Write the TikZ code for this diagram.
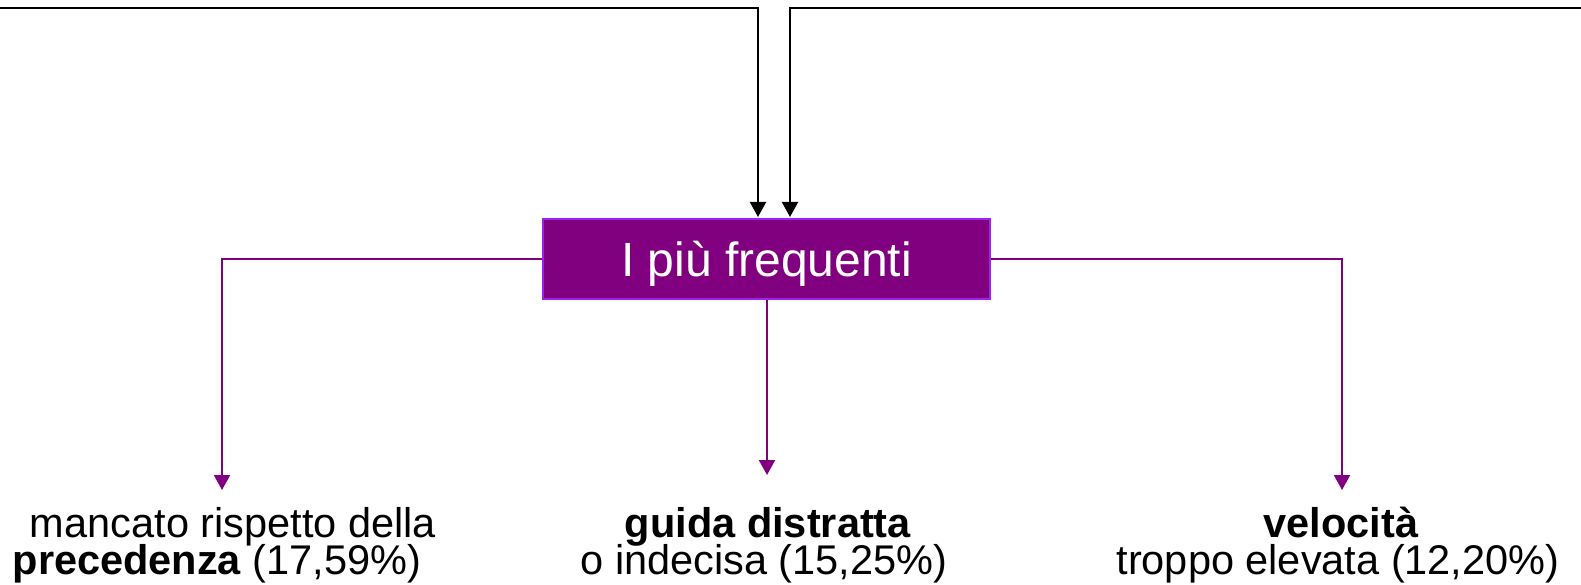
\documentclass[tikz,border=0pt]{standalone}
\usepackage{fontspec}
\setmainfont{Liberation Sans}
\usetikzlibrary{arrows.meta}
\definecolor{plum}{HTML}{800080}
\definecolor{plumedge}{HTML}{A020F0}
\begin{document}
\begin{tikzpicture}[x=1pt,y=-1pt,
  blackarrow/.style={draw=black,line width=2pt,-{Triangle[width=16pt,length=15pt]}},
  purplearrow/.style={draw=plum,line width=2pt,-{Triangle[width=16pt,length=15pt]}},
  mainbox/.style={draw=plumedge,line width=1.2pt,fill=plum,text=white,minimum width=447pt,minimum height=80pt,inner sep=0pt,text height=34.4pt,text depth=0pt,font=\fontsize{48}{52}\selectfont},
  lbl/.style={anchor=base,inner sep=0pt,font=\fontsize{41.5}{36}\selectfont}]
\useasboundingbox (0,0) rectangle (1581,585);
\fill[white] (0,0) rectangle (1581,585);
\node[mainbox] (box) at (766.5,259) {I più frequenti};
\coordinate (tl) at (0,8);
\coordinate (tr) at (1581,8);
\coordinate (ta) at (758,217);
\coordinate (tb) at (790,217);
\draw[blackarrow] (tl) -| (ta);
\draw[blackarrow] (tr) -| (tb);
\coordinate (lt) at (222,490);
\coordinate (mt) at (767,475);
\coordinate (rt) at (1342,490);
\draw[purplearrow] (box.west) -| (lt);
\draw[purplearrow] (box.south -| mt) -- (mt);
\draw[purplearrow] (box.east) -| (rt);
\node[lbl] (l1) at (233,537) {mancato rispetto della};
\node[lbl] (l2) at (217,574) {\textbf{precedenza} (17,59\%)};
\node[lbl] (m1) at (768,537) {\textbf{guida distratta}};
\node[lbl] (m2) at (764,574) {o indecisa (15,25\%)};
\node[lbl] (r1) at (1341,537) {\textbf{velocità}};
\node[lbl] (r2) at (1338,574) {troppo elevata (12,20\%)};
\end{tikzpicture}
\end{document}
